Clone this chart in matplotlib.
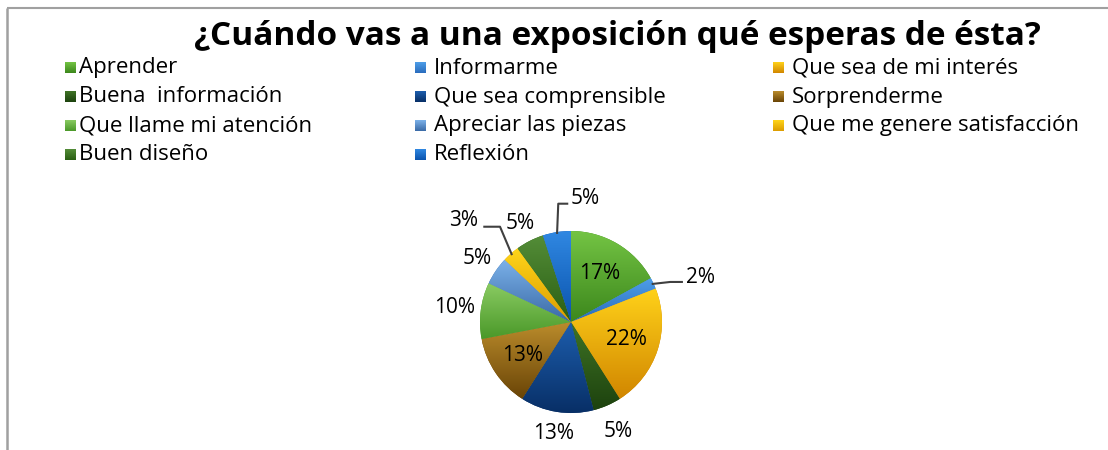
import numpy as np
import matplotlib
matplotlib.use("Agg")
import matplotlib.pyplot as plt
from matplotlib.colors import to_rgb

W, H = 1108, 450

title = "¿Cuándo vas a una exposición qué esperas de ésta?"
categories = [
    "Aprender",
    "Informarme",
    "Que sea de mi interés",
    "Buena  información",
    "Que sea comprensible",
    "Sorprenderme",
    "Que llame mi atención",
    "Apreciar las piezas",
    "Que me genere satisfacción",
    "Buen diseño",
    "Reflexión",
]
percents = [17, 2, 22, 5, 13, 13, 10, 5, 3, 5, 5]

# light (top) -> dark (bottom) shading per slice
colors_top = ["#74c444", "#4e9ee8", "#ffd21a", "#3f7426", "#1d5eae",
              "#bb8c2c", "#8acb62", "#7cb2ea", "#ffd51a", "#548d38", "#3088e2"]
colors_bot = ["#3c871c", "#2a6cbd", "#d18600", "#1d420e", "#082f66",
              "#694406", "#4a9829", "#3a6aa6", "#dc9c00", "#2a5e13", "#0a53ad"]

# label layout: radius (pie = 1) for plain labels, None -> leader line
label_r = [0.62, None, 0.64, 1.31, 1.24, 0.65, 1.29, 1.24, None, 1.22, None]
leaders = {
    1: [(1.09, 0.44), (1.23, 0.44), (1.26, 0.49), "left"],
    8: [(-0.78, 1.047), (-0.964, 1.047), (-1.02, 1.12), "right"],
    10: [(-0.14, 1.30), (-0.03, 1.30), (0.0, 1.36), "left"],
}

plt.rcParams["font.family"] = ["Open Sans", "DejaVu Sans"]

fig = plt.figure(figsize=(W / 100, H / 100), dpi=100)

# overlay in pixel coordinates (y down)
ov = fig.add_axes([0, 0, 1, 1])
ov.axis("off")


def grad(ax, extent, c_top, c_bot, clip=None, z=2):
    t = np.linspace(0, 1, 256)[:, None]
    img = (1 - t) * np.array(to_rgb(c_top)) + t * np.array(to_rgb(c_bot))
    im = ax.imshow(img[:, None, :], extent=extent, origin="upper",
                   aspect="auto", interpolation="bilinear", zorder=z)
    if clip is not None:
        im.set_clip_path(clip)
    return im


# chart frame (only top and left edges visible)
ov.plot([7, W], [8, 8], color="#a0a0a0", lw=1.5, solid_capstyle="butt")
ov.plot([7, 7], [8, H], color="#a0a0a0", lw=1.8, solid_capstyle="butt")

ov.text(617, 45, title, ha="center", va="baseline", fontsize=24,
        fontweight="bold", color="black")

# legend, filled row by row in 3 columns
box_x = [65, 415, 773]
text_x = [79, 434, 792]
row_y = [68, 97, 126, 155]
for i, name in enumerate(categories):
    r, c = divmod(i, 3)
    x, y = box_x[c], row_y[r]
    grad(ov, (x, x + 11, y + 5.5, y - 5.5), colors_top[i], colors_bot[i])
    ov.text(text_x[c], y, name, ha="left", va="center", fontsize=16,
            color="black")

ov.set_xlim(0, W)
ov.set_ylim(H, 0)

# pie axes: center (571, 322) px, radius 91 px
cx, cy, R, k = 571, 322, 91, 1.6
half = R * k
ax = fig.add_axes([(cx - half) / W, (H - cy - half) / H, 2 * half / W, 2 * half / H])
ax.axis("off")

wedges, _ = ax.pie(percents, startangle=90, counterclock=False, radius=1,
                   colors=colors_bot, wedgeprops=dict(linewidth=0))
for i, w in enumerate(wedges):
    bb = w.get_path().get_extents()
    grad(ax, (bb.x0, bb.x1, bb.y0, bb.y1), colors_top[i], colors_bot[i], clip=w)

for i, w in enumerate(wedges):
    mid = np.deg2rad((w.theta1 + w.theta2) / 2)
    txt = f"{percents[i]}%"
    if label_r[i] is not None:
        r = label_r[i]
        ax.text(r * np.cos(mid), r * np.sin(mid), txt, ha="center", va="center",
                fontsize=15, color="black")
    else:
        elbow, end, pos, ha = leaders[i]
        sx, sy = 0.98 * np.cos(mid), 0.98 * np.sin(mid)
        ax.plot([sx, elbow[0], end[0]], [sy, elbow[1], end[1]], color="#404040",
                lw=1.5, solid_capstyle="butt", zorder=3)
        ax.text(pos[0], pos[1], txt, ha=ha, va="center", fontsize=15,
                color="black")

ax.set_xlim(-k, k)
ax.set_ylim(-k, k)

fig.savefig("out.png", dpi=100)
